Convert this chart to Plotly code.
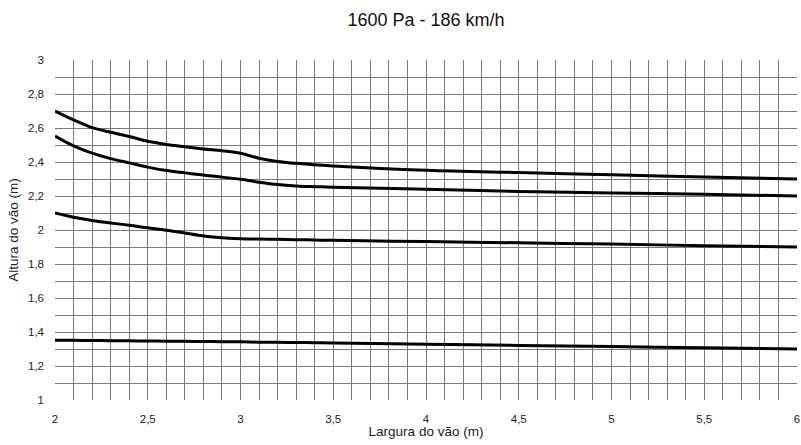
import plotly.graph_objects as go

largura = [2.0, 2.1, 2.2, 2.3, 2.4, 2.5, 2.6, 2.7, 2.8, 2.9, 3.0, 3.1, 3.2, 3.3, 3.4, 3.5, 4.0, 4.5, 5.0, 5.5, 6.0]

curva_1 = [2.70, 2.648, 2.602, 2.575, 2.55, 2.522, 2.503, 2.49, 2.477, 2.466, 2.452, 2.422, 2.403, 2.392, 2.384, 2.377, 2.352, 2.338, 2.325, 2.312, 2.30]
curva_2 = [2.553, 2.495, 2.452, 2.42, 2.395, 2.37, 2.35, 2.336, 2.323, 2.311, 2.298, 2.281, 2.267, 2.259, 2.255, 2.252, 2.239, 2.227, 2.218, 2.21, 2.20]
curva_3 = [2.10, 2.075, 2.056, 2.041, 2.028, 2.013, 1.999, 1.982, 1.965, 1.954, 1.949, 1.947, 1.945, 1.943, 1.941, 1.939, 1.932, 1.925, 1.917, 1.908, 1.90]
curva_4 = [1.352, 1.351, 1.350, 1.349, 1.348, 1.347, 1.346, 1.345, 1.344, 1.343, 1.342, 1.340, 1.339, 1.338, 1.337, 1.335, 1.328, 1.321, 1.314, 1.307, 1.30]

x_ticks = [2, 2.5, 3, 3.5, 4, 4.5, 5, 5.5, 6]
y_ticks = [1, 1.2, 1.4, 1.6, 1.8, 2, 2.2, 2.4, 2.6, 2.8, 3]

titulo = "1600 Pa - 186 km/h"
x_titulo = "Largura do vão (m)"
y_titulo = "Altura do vão (m)"

fig = go.Figure()
for serie in [curva_1, curva_2, curva_3, curva_4]:
    fig.add_trace(go.Scatter(
        x=largura, y=serie, mode="lines",
        line=dict(color="black", width=3, shape="spline", smoothing=1.0),
        showlegend=False, hoverinfo="skip"))

grid_col = "#7a7a7a"
fig.update_layout(
    width=801, height=445,
    margin=dict(l=55, r=4, t=60, b=45, autoexpand=False),
    paper_bgcolor="white", plot_bgcolor="white",
    separators=",.",
    font=dict(family="Liberation Sans, Arial, sans-serif", color="#222", size=11),
    title=dict(text=titulo, x=0.5, xref="paper", y=1 - 20 / 445, yref="container",
               xanchor="center", yanchor="middle", font=dict(size=18, color="#111")),
    xaxis=dict(range=[2, 6], tickvals=x_ticks, showgrid=True, gridcolor=grid_col, gridwidth=1,
               minor=dict(dtick=0.1, showgrid=True, gridcolor=grid_col, gridwidth=1),
               zeroline=False, showline=False, ticks="", automargin=False,
               tickfont=dict(size=11.5), ticklabelstandoff=10,
               title=dict(text=x_titulo, font=dict(size=13.5), standoff=3)),
    yaxis=dict(range=[1, 3], tickvals=y_ticks, showgrid=True, gridcolor=grid_col, gridwidth=1,
               minor=dict(dtick=0.1, showgrid=True, gridcolor=grid_col, gridwidth=1),
               zeroline=False, showline=False, ticks="", automargin=False,
               tickfont=dict(size=11.5), ticklabelstandoff=10,
               title=dict(text=y_titulo, font=dict(size=13.5), standoff=6)),
)

fig.write_html("out.html", config={"displayModeBar": False},
               post_script="document.body.style.margin='0';")
